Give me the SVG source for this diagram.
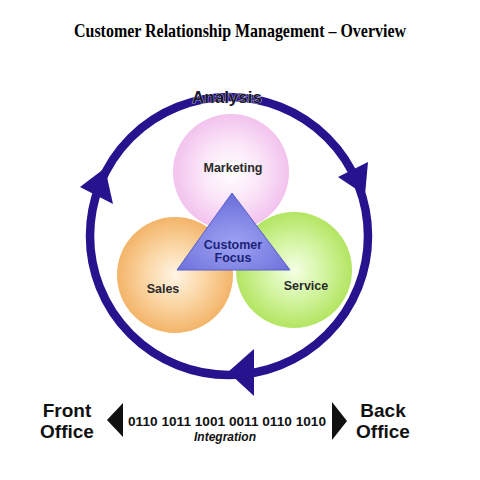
<svg xmlns="http://www.w3.org/2000/svg" width="480" height="480" viewBox="0 0 480 480">
<defs>
<radialGradient id="gPink" cx="50%" cy="50%" r="50%"><stop offset="0" stop-color="#ffffff"/><stop offset="0.5" stop-color="#fbe6f8"/><stop offset="1" stop-color="#f2c2ee"/></radialGradient>
<radialGradient id="gOrange" cx="50%" cy="50%" r="50%"><stop offset="0" stop-color="#fff4e4"/><stop offset="0.5" stop-color="#fbd7a6"/><stop offset="1" stop-color="#f3b469"/></radialGradient>
<radialGradient id="gGreen" cx="50%" cy="50%" r="50%"><stop offset="0" stop-color="#f4ffe4"/><stop offset="0.5" stop-color="#d4f5a3"/><stop offset="1" stop-color="#b3e562"/></radialGradient>
<radialGradient id="gTri" cx="50%" cy="65%" r="60%"><stop offset="0" stop-color="#9ea2f2"/><stop offset="1" stop-color="#6d71db"/></radialGradient>
<style>
.lbl{font-family:"Liberation Sans",Arial,sans-serif;font-weight:bold;text-anchor:middle;}
.ring{fill:none;stroke:#28138f;stroke-width:8.5;}
.head{fill:#28138f;}
</style>
</defs>
<rect width="480" height="480" fill="#ffffff"/>
<text x="240" y="37" font-family="'Liberation Serif','Times New Roman',serif" font-weight="bold" font-size="19" text-anchor="middle" textLength="332" lengthAdjust="spacingAndGlyphs">Customer Relationship Management – Overview</text>
<g id="connectors">
<circle class="ring" cx="229" cy="236" r="139"/>
<polygon class="head" points="80,187 105,168 113,204"/>
<polygon class="head" points="338,177 368,162 365,195"/>
<polygon class="head" points="228,372 254,349 254,396"/>
</g>
<g id="marketing">
<circle cx="231" cy="172" r="58" fill="url(#gPink)"/>
<text class="lbl" x="233" y="172" font-size="12.5" fill="#2a2a2a">Marketing</text>
</g>
<g id="sales">
<circle cx="175" cy="275" r="58" fill="url(#gOrange)"/>
<text class="lbl" x="163" y="293" font-size="12.5" fill="#2a2a2a">Sales</text>
</g>
<g id="service">
<circle cx="294" cy="270" r="58" fill="url(#gGreen)"/>
<text class="lbl" x="306" y="290" font-size="12.5" fill="#2a2a2a">Service</text>
</g>
<g id="customer-focus">
<polygon points="232,193 177,270 290,270" fill="url(#gTri)" stroke="#5a5ec8" stroke-width="1"/>
<text class="lbl" x="233" y="249" font-size="12.5" fill="#1c2378">Customer</text>
<text class="lbl" x="233" y="262" font-size="12.5" fill="#1c2378">Focus</text>
</g>
<g id="analysis">
<text class="lbl" x="227" y="103" font-size="17" fill="#1a1a2a" stroke="#ffffff" stroke-width="0.6" paint-order="stroke">Analysis</text>
</g>
<g id="front-office">
<text class="lbl" x="67" y="417" font-size="19" fill="#111">Front</text>
<text class="lbl" x="67" y="438" font-size="19" fill="#111">Office</text>
</g>
<g id="integration">
<polygon points="107,420 123,403 123,437" fill="#111"/>
<text class="lbl" x="227" y="426" font-size="12.5" fill="#111" textLength="198" lengthAdjust="spacingAndGlyphs">0110 1011 1001 0011 0110 1010</text>
<text class="lbl" x="225" y="441" font-size="12" font-style="italic" fill="#111">Integration</text>
<polygon points="347,421 332,402 332,440" fill="#111"/>
</g>
<g id="back-office">
<text class="lbl" x="383" y="417" font-size="19" fill="#111">Back</text>
<text class="lbl" x="383" y="438" font-size="19" fill="#111">Office</text>
</g>
</svg>
